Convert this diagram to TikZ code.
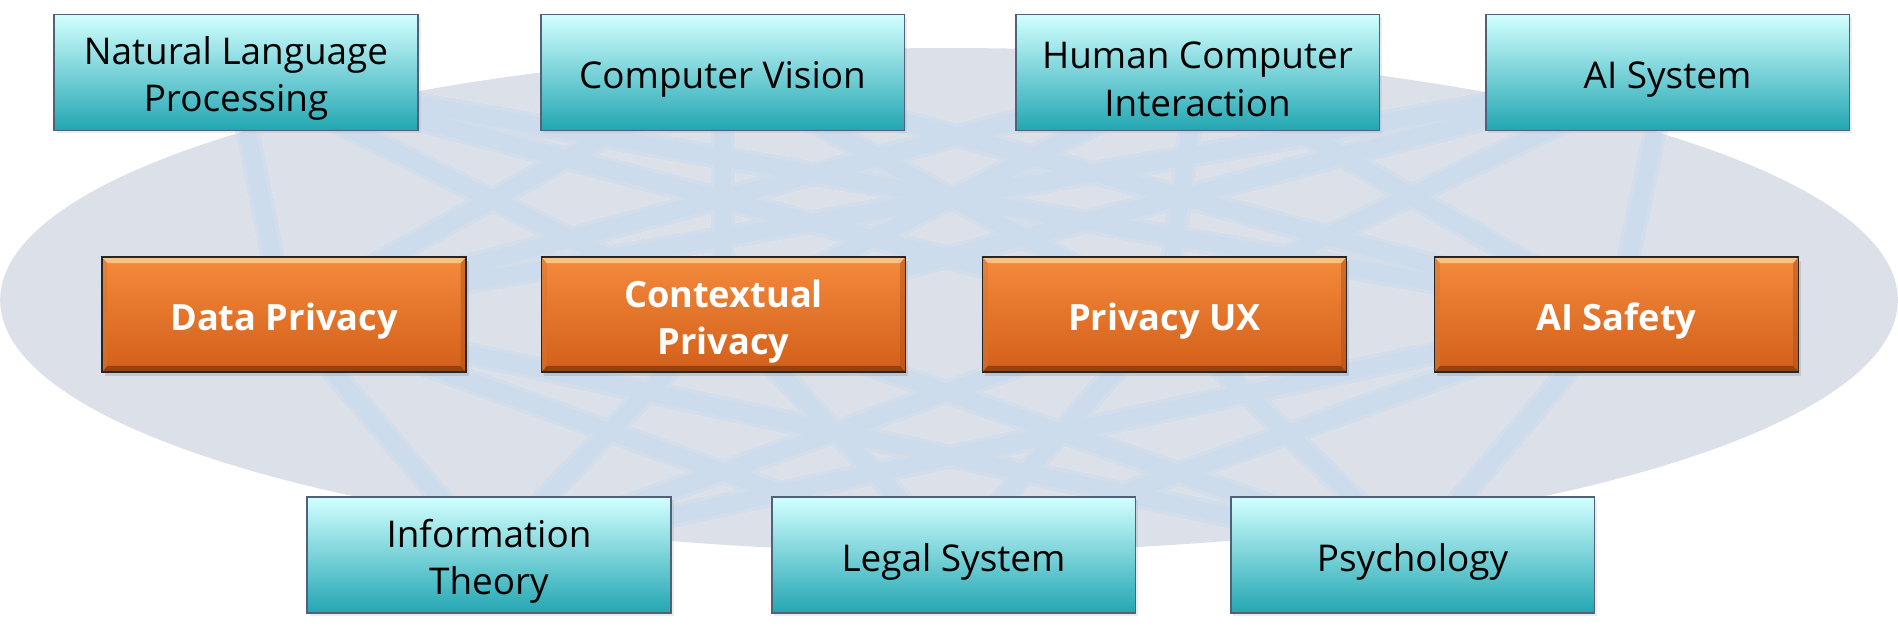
\documentclass[tikz,border=0pt]{standalone}
\usepackage{fontspec}
\setmainfont{Open Sans}
\usetikzlibrary{backgrounds, shadows}
\definecolor{ellbg}{HTML}{DCE0E9}
\definecolor{linkin}{HTML}{CDDCED}
\definecolor{linkout}{HTML}{DFE9F5}
\definecolor{cyantop}{HTML}{D2FFFF}
\definecolor{cyanmid}{HTML}{8EDBE0}
\definecolor{cyanbot}{HTML}{22A6B2}
\definecolor{cyanrim}{HTML}{50627A}
\definecolor{orgtop}{HTML}{F58A3C}
\definecolor{orgbot}{HTML}{D25F1A}
\definecolor{orglit}{HTML}{FBC084}
\tikzset{
  field/.style={draw=cyanrim, line width=1.1pt, top color=cyantop, middle color=cyanmid,
    bottom color=cyanbot, minimum width=7.28cm, minimum height=2.32cm, align=center,
    font=\fontsize{21}{27}\selectfont, execute at begin node={\rule{0pt}{23.5pt}},
    drop shadow={opacity=0.15, shadow xshift=1.5pt, shadow yshift=-1.5pt}},
  core/.style={draw=black!85, line width=1pt, top color=orgtop, bottom color=orgbot,
    minimum width=7.28cm, minimum height=2.3cm, align=center, text=white,
    font=\fontsize{20.6}{26.5}\selectfont\bfseries, execute at begin node={\rule{0pt}{23pt}},
    drop shadow={opacity=0.25, shadow xshift=1.5pt, shadow yshift=-2pt},
    path picture={
      \path (path picture bounding box.north west) coordinate (bw)
            (path picture bounding box.south east) coordinate (be);
      \fill[orglit] (bw) -- (bw -| be) -- ([shift={(-3pt,-3.5pt)}]bw -| be) -- ([shift={(3pt,-3.5pt)}]bw) -- cycle;
      \fill[orgbot!70!black] (be) -- (be -| bw) -- ([shift={(3pt,3.5pt)}]be -| bw) -- ([shift={(-3pt,3.5pt)}]be) -- cycle;
      \fill[orgbot!85!black, opacity=0.5] (be) -- (be |- bw) -- ([shift={(-3pt,-3.5pt)}]be |- bw) -- ([shift={(-3pt,3.5pt)}]be) -- cycle;
      \fill[orgtop!85!black, opacity=0.4] (bw) -- (bw |- be) -- ([shift={(3pt,3.5pt)}]bw |- be) -- ([shift={(3pt,-3.5pt)}]bw) -- cycle;
    }},
  twoline/.style={execute at begin node={\rule{0pt}{50pt}}},
  link/.style={line cap=round},
}
\begin{document}
\begin{tikzpicture}[x=0.02cm, y=-0.02cm]
  \useasboundingbox (0,0) rectangle (1898,628);
  % source fields (top row)
  \node[field, twoline] (nlp) at (236,72.5)    {Natural Language\\Processing};
  \node[field]          (cv)  at (722.5,72.5)  {Computer Vision};
  \node[field, twoline] (hci) at (1197.5,72.5) {Human Computer\\Interaction};
  \node[field]          (ais) at (1667.5,72.5) {AI System};
  % privacy topics (middle row)
  \node[core]          (dp)  at (284,314.5)    {Data Privacy};
  \node[core, twoline] (cp)  at (723.5,314.5)  {Contextual\\Privacy};
  \node[core]          (pux) at (1164.5,314.5) {Privacy UX};
  \node[core]          (saf) at (1616.5,314.5) {AI Safety};
  % source fields (bottom row)
  \node[field, twoline] (it)  at (489,555)    {Information\\Theory};
  \node[field]          (ls)  at (953.5,555)  {Legal System};
  \node[field]          (psy) at (1412.5,555) {Psychology};
  % backdrop: ellipse and all-to-all links (soft edge, then core)
  \begin{scope}[on background layer]
    \fill[ellbg] (949,300) ellipse [x radius=18.98cm, y radius=5.04cm];
    \foreach \w/\c in {0.5cm/linkout!55!white, 0.34cm/linkout}
      \foreach \m in {dp,cp,pux,saf}{
        \foreach \s in {nlp,cv,hci,ais} \draw[link, \c, line width=\w] (\s.center) -- (\m.center);
        \foreach \s in {it,ls,psy} \draw[link, \c, line width=\w] (\m.center) -- (\s.center);
      }
    \clip (949,300) ellipse [x radius=18.98cm, y radius=5.04cm];
    \foreach \w/\c in {0.5cm/linkin!50!ellbg, 0.34cm/linkin}
      \foreach \m in {dp,cp,pux,saf}{
        \foreach \s in {nlp,cv,hci,ais} \draw[link, \c, line width=\w] (\s.center) -- (\m.center);
        \foreach \s in {it,ls,psy} \draw[link, \c, line width=\w] (\m.center) -- (\s.center);
      }
  \end{scope}
\end{tikzpicture}
\end{document}
